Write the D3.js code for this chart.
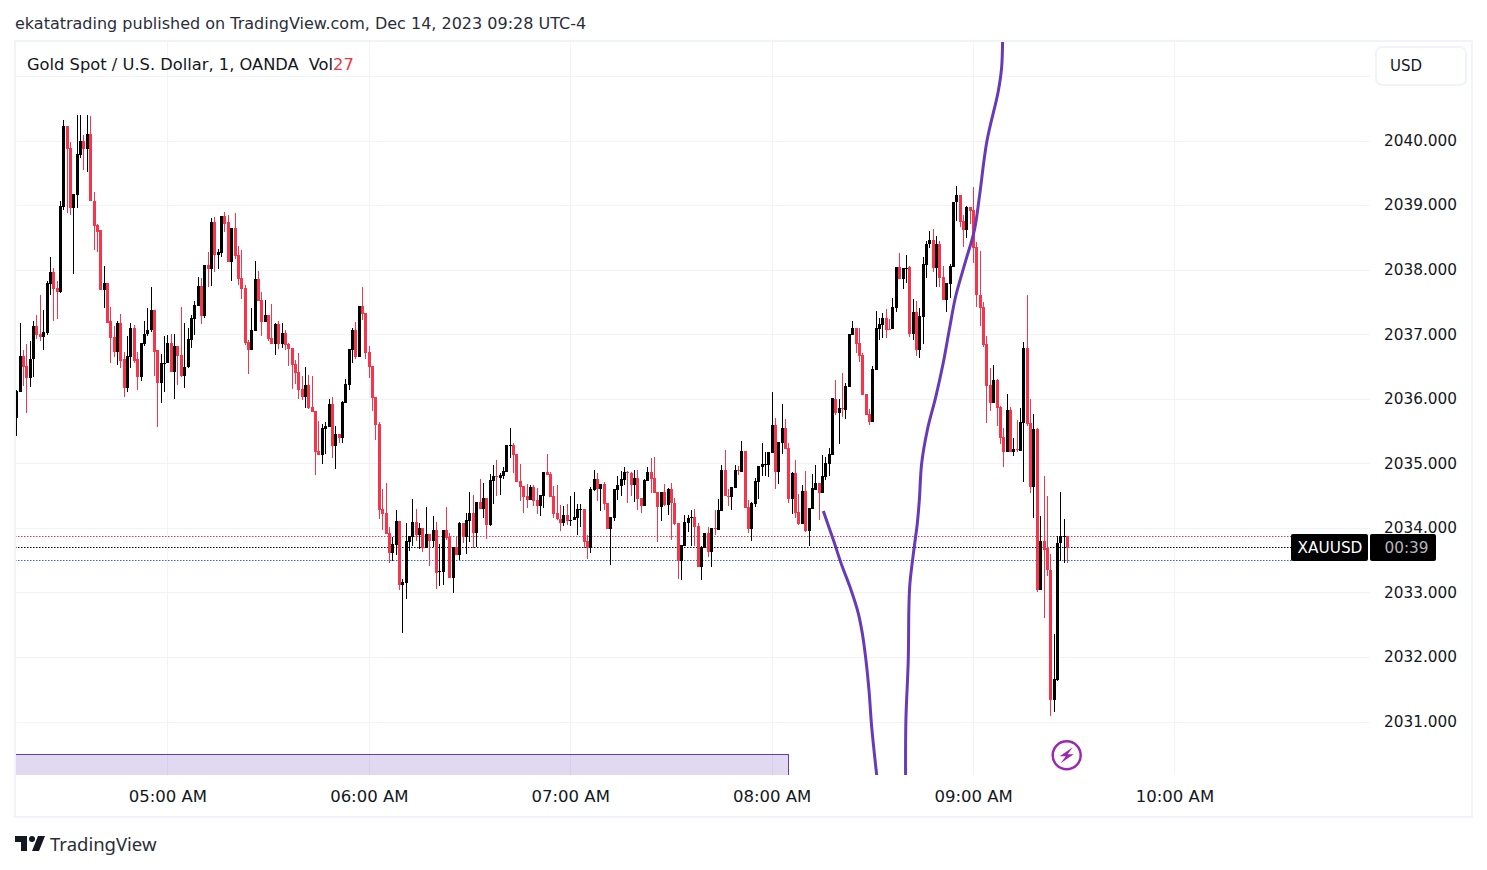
<!DOCTYPE html>
<html>
<head>
<meta charset="utf-8">
<title>XAUUSD 1m</title>
<script src="https://cdn.jsdelivr.net/npm/d3@7"></script>
<style>
body { margin: 0; background: #fff; }
text { font-family: "DejaVu Sans", sans-serif; }
</style>
</head>
<body>
<script>
//one minute bars, first bar is 04:15, last bar is 09:28
var firstBar = new Date(2023, 11, 14, 4, 15);

var opens = [
2035.70,2036.10,2036.66,2036.50,2036.32,2036.62,2037.13,2037.00,2036.96,2037.02,
2037.78,2037.97,2037.71,2037.65,2038.97,2040.22,2039.88,2038.95,2039.15,2039.77,
2039.99,2039.87,2040.10,2039.07,2038.69,2038.61,2037.68,2037.80,2037.20,2036.95,
2036.73,2037.18,2036.61,2036.16,2036.64,2037.09,2036.61,2036.33,2036.84,2037.00,
2037.06,2037.37,2036.75,2036.24,2036.55,2036.55,2036.87,2036.42,2036.81,2036.67,
2036.35,2036.49,2036.91,2037.24,2037.44,2037.75,2037.28,2038.07,2038.01,2038.74,
2038.23,2038.26,2038.83,2038.73,2038.12,2038.65,2038.23,2037.87,2037.72,2036.88,
2036.76,2037.05,2037.86,2037.53,2037.19,2037.30,2036.94,2036.85,2037.16,2036.85,
2037.02,2036.85,2036.79,2036.54,2036.42,2036.15,2036.03,2036.21,2035.87,2035.81,
2035.19,2035.13,2035.53,2035.56,2035.92,2035.27,2035.45,2035.39,2035.94,2036.21,
2036.76,2037.07,2036.65,2037.44,2037.33,2036.73,2036.51,2036.03,2035.61,2034.29,
2034.23,2033.92,2033.61,2033.73,2034.11,2033.11,2033.14,2033.78,2033.86,2034.09,
2033.89,2034.00,2033.69,2033.90,2033.80,2033.97,2033.32,2033.32,2033.97,2033.86,
2033.22,2033.70,2033.58,2034.08,2033.86,2034.11,2034.23,2033.92,2034.40,2034.29,
2034.46,2034.04,2034.73,2034.80,2034.77,2034.80,2034.87,2035.27,2035.28,2035.14,
2034.73,2034.65,2034.49,2034.43,2034.63,2034.43,2034.34,2034.49,2034.87,2034.83,
2034.49,2034.23,2034.14,2034.08,2034.20,2034.11,2034.12,2034.15,2034.29,2034.29,
2033.80,2033.69,2034.59,2034.76,2034.60,2034.68,2034.39,2033.98,2034.15,2034.59,
2034.65,2034.74,2034.87,2034.85,2034.66,2034.77,2034.46,2034.34,2034.73,2034.87,
2034.77,2034.56,2034.32,2034.56,2034.35,2034.60,2034.39,2034.07,2033.49,2033.72,
2034.07,2034.16,2034.17,2034.03,2033.39,2033.69,2033.92,2033.63,2034.00,2033.97,
2034.26,2034.90,2034.50,2034.48,2034.62,2034.90,2034.87,2035.19,2034.32,2033.98,
2034.37,2034.71,2034.94,2034.99,2034.97,2035.16,2035.59,2034.87,2035.32,2035.55,
2035.24,2034.45,2034.85,2034.25,2034.06,2034.57,2033.95,2034.29,2034.59,2034.70,
2034.54,2034.79,2034.99,2035.13,2036.00,2035.78,2035.86,2035.83,2036.18,2036.98,
2037.10,2036.87,2036.68,2036.08,2035.77,2035.64,2036.45,2037.08,2037.14,2037.25,
2037.08,2037.08,2037.41,2038.04,2037.86,2038.02,2038.04,2037.00,2037.35,2036.76,
2037.27,2038.07,2038.39,2038.46,2038.03,2038.40,2037.89,2037.53,2037.78,2038.04,
2039.04,2039.16,2038.76,2038.62,2038.97,2038.93,2038.35,2037.61,2037.42,2036.85,
2036.22,2035.94,2036.29,2035.87,2035.41,2035.18,2035.83,2035.18,2035.22,2035.19,
2035.63,2036.79,2035.63,2034.64,2035.53,2033.04,2033.80,2033.68,2033.35,2031.34,
2031.65,2033.76,2033.86,2033.88
];
var highs = [
2036.13,2037.17,2036.75,2036.84,2036.89,2037.21,2037.29,2037.60,2037.37,2037.83,
2038.19,2038.02,2037.82,2039.07,2040.32,2040.22,2039.97,2039.17,2040.39,2040.40,
2040.08,2040.39,2040.38,2039.20,2038.70,2038.61,2038.05,2037.80,2037.42,2037.12,
2037.20,2037.31,2036.73,2036.97,2037.18,2037.14,2036.73,2036.86,2037.20,2037.40,
2037.73,2037.37,2036.75,2036.70,2036.97,2036.98,2037.01,2037.00,2036.81,2037.42,
2037.18,2037.09,2037.30,2037.52,2037.89,2037.87,2038.07,2038.28,2038.80,2038.82,
2038.32,2038.83,2038.90,2038.85,2038.65,2038.88,2038.37,2038.31,2037.76,2036.91,
2037.41,2038.14,2037.98,2037.66,2037.53,2037.30,2037.47,2037.18,2037.21,2037.18,
2037.07,2036.87,2036.79,2036.60,2036.71,2036.35,2036.49,2036.37,2036.35,2035.81,
2035.66,2035.61,2035.64,2036.00,2036.03,2035.58,2035.45,2035.97,2036.31,2036.77,
2037.10,2037.19,2037.44,2037.73,2037.33,2036.82,2036.51,2036.03,2035.64,2034.60,
2034.70,2034.01,2033.86,2034.28,2034.11,2033.21,2034.08,2033.87,2034.45,2034.29,
2034.08,2034.00,2034.32,2033.90,2034.18,2034.09,2033.75,2033.97,2034.32,2033.92,
2033.70,2033.86,2034.09,2034.08,2034.23,2034.56,2034.51,2034.40,2034.76,2034.70,
2034.46,2034.84,2034.97,2035.05,2034.85,2034.94,2035.28,2035.55,2035.32,2035.14,
2034.99,2034.65,2034.68,2034.66,2034.66,2034.62,2034.51,2034.87,2035.14,2034.87,
2034.65,2034.66,2034.35,2034.34,2034.37,2034.49,2034.56,2034.37,2034.37,2034.29,
2033.89,2034.63,2034.90,2034.85,2034.68,2034.71,2034.39,2034.17,2034.60,2034.80,
2034.88,2034.94,2034.88,2034.87,2034.90,2034.90,2034.46,2034.76,2034.94,2035.08,
2035.10,2034.56,2034.56,2034.68,2034.62,2034.70,2034.46,2034.07,2033.73,2034.20,
2034.20,2034.28,2034.29,2034.07,2033.72,2033.92,2034.01,2034.00,2034.28,2034.45,
2034.97,2035.21,2034.60,2034.63,2034.97,2034.96,2035.35,2035.19,2034.43,2034.40,
2034.77,2034.96,2035.32,2035.18,2035.18,2036.11,2035.70,2035.33,2035.92,2035.69,
2035.32,2034.87,2035.05,2034.52,2034.66,2034.88,2034.31,2034.83,2034.97,2034.70,
2035.13,2035.10,2035.24,2036.01,2036.29,2036.00,2036.40,2036.25,2037.00,2037.21,
2037.10,2037.10,2036.71,2036.08,2035.84,2036.51,2037.36,2037.25,2037.33,2037.39,
2037.24,2037.56,2038.04,2038.25,2038.03,2038.23,2038.06,2037.55,2037.52,2037.41,
2038.20,2038.45,2038.60,2038.63,2038.52,2038.45,2038.06,2037.80,2038.09,2039.05,
2039.30,2039.16,2038.85,2038.99,2038.97,2039.28,2038.42,2038.29,2037.50,2036.97,
2036.48,2036.53,2036.31,2035.89,2035.55,2036.07,2035.87,2035.39,2035.67,2035.86,
2036.88,2037.60,2036.00,2035.77,2035.55,2034.18,2034.80,2034.50,2033.60,2032.35,
2033.87,2034.55,2034.13,2033.88
];
var lows = [
2035.43,2036.10,2036.19,2035.78,2036.18,2036.34,2036.93,2036.89,2036.75,2036.98,
2037.60,2037.21,2037.23,2037.63,2038.92,2038.87,2038.84,2037.93,2038.95,2039.73,
2039.54,2039.51,2039.06,2038.30,2038.28,2037.68,2037.40,2037.18,2036.55,2036.64,
2036.53,2036.47,2036.02,2036.11,2036.47,2036.55,2036.13,2036.28,2036.81,2036.97,
2037.03,2036.35,2035.56,2035.94,2036.11,2036.55,2036.42,2035.99,2036.21,2036.33,
2036.16,2036.47,2036.79,2036.99,2037.44,2037.16,2037.25,2037.73,2037.75,2037.97,
2038.01,2038.20,2038.59,2038.12,2037.83,2038.17,2037.76,2037.55,2036.83,2036.39,
2036.76,2037.05,2037.52,2036.97,2037.19,2036.90,2036.85,2036.68,2036.77,2036.79,
2036.76,2036.51,2036.15,2036.23,2036.00,2035.98,2035.86,2035.84,2035.80,2034.82,
2035.13,2034.99,2035.15,2035.56,2035.08,2034.91,2035.32,2035.32,2035.94,2036.14,
2036.56,2036.62,2036.65,2037.22,2036.62,2036.32,2035.81,2035.36,2034.14,2033.97,
2033.90,2033.46,2033.49,2033.58,2033.04,2032.37,2032.90,2033.64,2033.72,2033.80,
2033.67,2033.63,2033.69,2033.41,2033.70,2033.05,2033.10,2033.11,2033.81,2033.22,
2032.99,2033.58,2033.50,2033.76,2033.59,2033.78,2033.69,2033.70,2034.29,2034.15,
2033.83,2034.03,2034.37,2034.49,2034.51,2034.76,2034.87,2035.08,2034.85,2034.71,
2034.42,2034.23,2034.31,2034.43,2034.34,2034.21,2034.18,2034.31,2034.82,2034.48,
2034.15,2034.12,2033.95,2034.03,2034.04,2034.03,2034.12,2033.89,2034.01,2033.69,
2033.52,2033.61,2034.57,2034.42,2034.26,2034.28,2033.98,2033.42,2034.11,2034.43,
2034.49,2034.66,2034.39,2034.49,2034.40,2034.28,2034.23,2034.34,2034.73,2034.54,
2034.54,2033.78,2034.11,2034.34,2034.20,2033.81,2034.04,2033.21,2033.19,2033.72,
2033.94,2033.72,2033.72,2033.39,2033.19,2033.69,2033.55,2033.39,2033.89,2033.97,
2034.26,2034.49,2034.34,2034.28,2034.62,2034.82,2034.87,2034.31,2033.92,2033.80,
2034.32,2034.45,2034.80,2034.80,2034.79,2035.16,2034.60,2034.68,2035.15,2035.22,
2034.39,2034.22,2034.15,2034.04,2034.06,2033.93,2033.72,2034.29,2034.59,2034.12,
2034.54,2034.74,2034.80,2035.13,2035.75,2035.30,2035.72,2035.69,2036.18,2036.98,
2036.71,2036.57,2036.06,2035.75,2035.59,2035.64,2036.45,2036.91,2036.94,2036.94,
2037.06,2037.08,2037.35,2037.86,2037.70,2037.80,2036.96,2036.91,2036.66,2036.63,
2036.85,2037.87,2038.34,2037.97,2037.73,2037.73,2037.53,2037.35,2037.56,2038.04,
2038.76,2038.66,2038.35,2038.49,2038.70,2038.11,2037.42,2037.13,2036.80,2035.63,
2035.81,2035.94,2035.58,2035.30,2034.94,2035.18,2035.18,2035.11,2035.18,2035.19,
2034.71,2035.58,2034.54,2034.15,2033.00,2033.04,2032.60,2033.26,2031.09,2031.14,
2031.63,2033.48,2033.45,2033.45
];
var closes = [
2036.12,2036.66,2036.49,2036.32,2036.62,2037.13,2036.99,2036.96,2037.03,2037.79,
2037.97,2037.70,2037.65,2038.98,2040.22,2039.87,2038.95,2039.17,2039.79,2039.99,
2039.87,2040.10,2039.06,2038.67,2038.59,2037.68,2037.80,2037.18,2036.94,2036.73,
2037.18,2036.59,2036.16,2036.66,2037.09,2036.59,2036.33,2036.86,2037.01,2037.07,
2037.37,2036.73,2036.24,2036.55,2036.56,2036.87,2036.42,2036.81,2036.66,2036.35,
2036.49,2036.92,2037.25,2037.45,2037.75,2037.28,2038.07,2038.01,2038.74,2038.23,
2038.28,2038.83,2038.71,2038.12,2038.65,2038.21,2037.86,2037.70,2036.87,2036.76,
2037.07,2037.86,2037.52,2037.19,2037.30,2036.93,2036.85,2037.16,2036.85,2037.02,
2036.83,2036.77,2036.52,2036.40,2036.14,2036.03,2036.21,2035.86,2035.80,2035.18,
2035.13,2035.55,2035.58,2035.92,2035.27,2035.45,2035.39,2035.95,2036.23,2036.77,
2037.07,2036.65,2037.44,2037.32,2036.71,2036.49,2036.01,2035.60,2034.28,2034.21,
2033.90,2033.61,2033.75,2034.11,2033.11,2033.16,2033.80,2033.87,2034.09,2033.89,
2034.00,2033.69,2033.90,2033.80,2033.97,2033.30,2033.33,2033.97,2033.84,2033.22,
2033.70,2033.58,2034.08,2033.86,2034.12,2034.23,2033.92,2034.40,2034.29,2034.46,
2034.04,2034.74,2034.80,2034.79,2034.82,2034.88,2035.28,2035.28,2035.13,2034.71,
2034.63,2034.48,2034.43,2034.63,2034.42,2034.34,2034.51,2034.87,2034.82,2034.48,
2034.21,2034.14,2034.08,2034.20,2034.11,2034.12,2034.17,2034.29,2034.29,2033.78,
2033.69,2034.60,2034.76,2034.60,2034.68,2034.37,2033.98,2034.17,2034.60,2034.66,
2034.76,2034.87,2034.85,2034.66,2034.77,2034.45,2034.34,2034.74,2034.87,2034.76,
2034.54,2034.32,2034.56,2034.35,2034.60,2034.39,2034.06,2033.49,2033.73,2034.09,
2034.15,2034.17,2034.01,2033.39,2033.70,2033.92,2033.63,2034.00,2033.99,2034.28,
2034.90,2034.49,2034.49,2034.63,2034.90,2034.89,2035.19,2034.31,2033.98,2034.39,
2034.73,2034.96,2034.99,2034.99,2035.18,2035.59,2034.87,2035.33,2035.55,2035.22,
2034.45,2034.85,2034.23,2034.06,2034.57,2033.95,2034.31,2034.62,2034.70,2034.54,
2034.80,2035.00,2035.15,2036.01,2035.78,2035.86,2035.85,2036.20,2037.00,2037.10,
2036.85,2036.66,2036.06,2035.75,2035.64,2036.46,2037.10,2037.16,2037.25,2037.07,
2037.07,2037.42,2038.04,2037.86,2038.03,2038.03,2037.00,2037.35,2036.76,2037.28,
2038.09,2038.40,2038.46,2038.03,2038.40,2037.87,2037.53,2037.80,2038.06,2039.05,
2039.16,2038.74,2038.62,2038.97,2038.91,2038.34,2037.60,2037.41,2036.83,2036.20,
2035.94,2036.29,2035.86,2035.39,2035.18,2035.83,2035.18,2035.22,2035.21,2035.64,
2036.79,2035.61,2034.64,2035.53,2033.04,2033.80,2033.66,2033.34,2031.34,2031.66,
2033.77,2033.87,2033.87,2033.68
];

//purple curve, x is in bars from the first bar (it leaves the pane at the bottom and comes back)
var curveOneBars = [240.4,243.4,245.9,248.3,250.8,252.0,253.1,254.0,254.8,256.3];
var curveOnePrices = [2034.26,2033.81,2033.42,2033.09,2032.68,2032.37,2031.95,2031.49,2030.92,2030.17];
var curveTwoBars = [264.9,265.0,265.7,265.9,266.2,267.5,268.4,269.0,269.7,271.4,273.9,276.1,277.9,279.8,282.6,285.4,286.9,289.1,292.5,293.5,293.8];
var curveTwoPrices = [2030.17,2031.02,2031.95,2032.78,2033.14,2033.71,2034.07,2034.43,2035.00,2035.52,2036.03,2036.55,2037.06,2037.58,2038.10,2038.61,2039.13,2039.98,2040.76,2041.12,2041.54];

//axis values
var priceTicks = [2040,2039,2038,2037,2036,2035,2034,2033,2032,2031];
var gridPrices = [2041,2040,2039,2038,2037,2036,2035,2034,2033,2032,2031];
var timeTicks = [5,6,7,8,9,10].map(function (h) { return new Date(2023, 11, 14, h, 0); });

//the three dotted levels
var levelPrices = [2033.88, 2033.70, 2033.50];
var levelColors = ["#f23645", "#000000", "#2962ff"];

//zone at the bottom of the pane
var zoneLastBar = 230;
var zoneTop = 2030.49;

var w = 1487, h = 870;
var paneLeft = 15, paneTop = 41, paneBottom = 775, paneRight = 1370;

var red = "#f7344a";
var black = "#000000";
var purple = "#673ab7";

var svg = d3.select("body").append("svg")
    .attr("width", w)
    .attr("height", h)
    .style("display", "block");

//time scale, 60 minutes is 201.4 px
var x = d3.scaleTime()
    .domain([firstBar, new Date(2023, 11, 14, 5, 15)])
    .range([16.3, 217.72]);
function barTime(i) {
    return new Date(firstBar.getTime() + i * 60000);
}
var y = d3.scaleLinear()
    .domain([2040, 2031])
    .range([140.5, 721.5]);

svg.append("defs").append("clipPath")
    .attr("id", "pane")
    .append("rect")
    .attr("x", paneLeft)
    .attr("y", paneTop)
    .attr("width", 1457)
    .attr("height", paneBottom - paneTop);

//grid
var grid = svg.append("g").attr("stroke", "#f0f3fa").attr("shape-rendering", "crispEdges");
grid.selectAll(".hgrid").data(gridPrices).enter().append("line")
    .attr("class", "hgrid")
    .attr("x1", paneLeft)
    .attr("x2", paneRight)
    .attr("y1", function (d) { return Math.round(y(d)) + 0.5; })
    .attr("y2", function (d) { return Math.round(y(d)) + 0.5; });
grid.selectAll(".vgrid").data(timeTicks).enter().append("line")
    .attr("class", "vgrid")
    .attr("y1", paneTop)
    .attr("y2", paneBottom)
    .attr("x1", function (d) { return Math.round(x(d)) + 0.5; })
    .attr("x2", function (d) { return Math.round(x(d)) + 0.5; });

//zone box
var zone = svg.append("g").attr("clip-path", "url(#pane)");
zone.append("rect")
    .attr("x", paneLeft)
    .attr("y", Math.round(y(zoneTop)) + 0.5)
    .attr("width", Math.round(x(barTime(zoneLastBar))) - paneLeft)
    .attr("height", 40)
    .style("fill", purple)
    .style("fill-opacity", 0.2)
    .style("stroke", purple)
    .style("stroke-width", 1)
    .attr("shape-rendering", "crispEdges");

//dotted levels
svg.selectAll(".level").data(levelPrices).enter().append("line")
    .attr("class", "level")
    .attr("x1", paneLeft)
    .attr("x2", 1292)
    .attr("y1", function (d) { return Math.round(y(d)) + 0.5; })
    .attr("y2", function (d) { return Math.round(y(d)) + 0.5; })
    .style("stroke", function (d, i) { return levelColors[i]; })
    .style("stroke-dasharray", "1.5,1.5");

//candles
var barIndex = d3.range(opens.length);
var candles = svg.append("g").attr("clip-path", "url(#pane)").attr("shape-rendering", "crispEdges");
function candleColor(i) {
    return closes[i] >= opens[i] ? black : red;
}
candles.selectAll(".wick").data(barIndex).enter().append("rect")
    .attr("class", "wick")
    .attr("x", function (i) { return Math.round(x(barTime(i))); })
    .attr("width", 1)
    .attr("y", function (i) { return Math.round(y(highs[i])); })
    .attr("height", function (i) { return Math.max(1, Math.round(y(lows[i])) - Math.round(y(highs[i]))); })
    .style("fill", candleColor);
candles.selectAll(".body").data(barIndex).enter().append("rect")
    .attr("class", "body")
    .attr("x", function (i) { return Math.round(x(barTime(i))) - 1; })
    .attr("width", 3)
    .attr("y", function (i) { return Math.round(y(Math.max(opens[i], closes[i]))); })
    .attr("height", function (i) { return Math.max(1, Math.round(y(Math.min(opens[i], closes[i]))) - Math.round(y(Math.max(opens[i], closes[i])))); })
    .style("fill", candleColor);

//purple curve
var curve = d3.line()
    .x(function (d) { return x(barTime(d[0])); })
    .y(function (d) { return y(d[1]); })
    .curve(d3.curveCatmullRom);
var curves = svg.append("g").attr("clip-path", "url(#pane)");
curves.selectAll(".curve").data([d3.zip(curveOneBars, curveOnePrices), d3.zip(curveTwoBars, curveTwoPrices)]).enter().append("path")
    .attr("class", "curve")
    .attr("d", curve)
    .style("fill", "none")
    .style("stroke", purple)
    .style("stroke-width", 3);

//frame round the pane
svg.append("rect")
    .attr("x", 15)
    .attr("y", 41)
    .attr("width", 1457)
    .attr("height", 776)
    .style("fill", "none")
    .style("stroke", "#f0f3fa")
    .style("stroke-width", 2);

//price labels
var priceAxis = d3.axisRight(y)
    .tickValues(priceTicks)
    .tickSize(0)
    .tickPadding(0)
    .tickFormat(d3.format(".3f"));
var priceG = svg.append("g")
    .attr("transform", "translate(1384,0)")
    .call(priceAxis);
priceG.select(".domain").remove();
priceG.selectAll("text")
    .style("font-family", '"DejaVu Sans", sans-serif')
    .style("font-size", "15.3px")
    .style("fill", "#131722");

//time labels
var timeAxis = d3.axisBottom(x)
    .tickValues(timeTicks)
    .tickSize(0)
    .tickPadding(0)
    .tickFormat(d3.timeFormat("%I:%M %p"));
var timeG = svg.append("g")
    .attr("transform", "translate(0,790)")
    .call(timeAxis);
timeG.select(".domain").remove();
timeG.selectAll("text")
    .style("font-family", '"DejaVu Sans", sans-serif')
    .style("font-size", "16.5px")
    .style("fill", "#131722");

//last price tag
svg.append("rect").attr("x", 1291).attr("y", 534).attr("width", 77).attr("height", 27).attr("rx", 2).style("fill", "#000");
svg.append("rect").attr("x", 1370).attr("y", 534).attr("width", 66).attr("height", 27).attr("rx", 2).style("fill", "#000");
svg.append("text").attr("x", 1330).attr("y", 553).attr("text-anchor", "middle")
    .style("font-size", "15.3px").style("fill", "#fff").text("XAUUSD");
svg.append("text").attr("x", 1406.5).attr("y", 553).attr("text-anchor", "middle")
    .style("font-size", "15.3px").style("fill", "#b2b5be").text("00:39");

//USD button
svg.append("rect").attr("x", 1376).attr("y", 47).attr("width", 90).attr("height", 38).attr("rx", 6)
    .style("fill", "#fff").style("stroke", "#f0f3fa").style("stroke-width", 2);
svg.append("text").attr("x", 1390).attr("y", 71).style("font-size", "15px").style("fill", "#131722").text("USD");

//header texts
svg.append("text").attr("x", 15).attr("y", 28.5)
    .style("font-size", "16px").style("fill", "#2a2e39")
    .text("ekatatrading published on TradingView.com, Dec 14, 2023 09:28 UTC-4");
var legend = svg.append("text").attr("x", 27).attr("y", 69.5)
    .style("font-size", "16.3px").style("fill", "#131722");
legend.append("tspan").text("Gold Spot / U.S. Dollar, 1, OANDA");
legend.append("tspan").attr("dx", 11).text("Vol");
legend.append("tspan").style("fill", "#f23645").text("27");

//flash mark under the last bars
var flash = svg.append("g").attr("transform", "translate(1066.7,755.3)");
flash.append("circle").attr("r", 14).style("fill", "#fff").style("stroke", "#9c27b0").style("stroke-width", 2.5);
flash.append("path").attr("d", "M6,-8L-7,1L-1,1L-6,8L7,-1L1,-1Z").style("fill", "#9c27b0");

//TradingView logo
svg.append("path")
    .attr("transform", "translate(13,830)")
    .attr("d", "M14 6H2v6h6v9h6V6Zm12 15h-7l6-15h7l-6 15Zm-7-9a3 3 0 1 0 0-6 3 3 0 0 0 0 6Z")
    .style("fill", "#131722");
svg.append("text").attr("x", 50).attr("y", 850.5)
    .style("font-family", '"Noto Sans", sans-serif')
    .style("font-size", "18.5px").style("fill", "#2a2e39").text("TradingView");
</script>
</body>
</html>
